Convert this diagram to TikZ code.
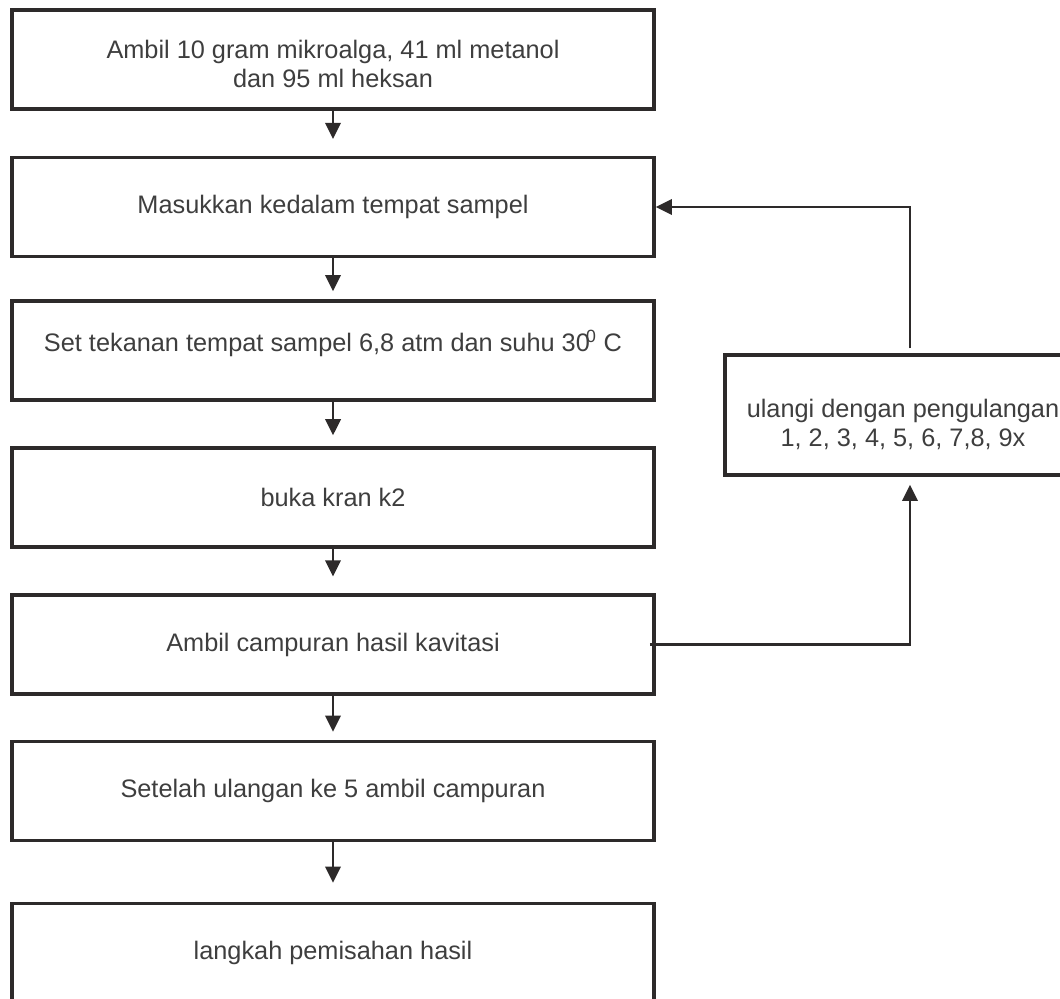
\documentclass[tikz,border=0pt]{standalone}
\usepackage{fontspec}
\setmainfont{Liberation Sans}
\usetikzlibrary{arrows.meta}
\definecolor{linegray}{RGB}{45,42,42}
\definecolor{textgray}{RGB}{62,62,62}
\begin{document}
\begin{tikzpicture}[x=0.025cm,y=-0.025cm,
	stepbox/.style={draw=linegray, line width=2.4pt, rectangle, align=center, text=textgray, inner sep=0pt, minimum width=16.05cm, minimum height=2.475cm, font=\fontsize{18}{20.6}\selectfont},
	flow/.style={draw=linegray, line width=1.6pt, -{Triangle[length=11.5pt,width=11pt]}}]
	\useasboundingbox (0,0) rectangle (1060,999);
	\node[stepbox] (n1) at (333,59.5) {\rule{0pt}{20pt}Ambil 10 gram mikroalga, 41 ml metanol\\dan 95 ml heksan};
	\node[stepbox] (n2) at (333,207) {Masukkan kedalam tempat sampel};
	\node[stepbox] (n3) at (333,350.5) {\raisebox{5pt}[\height][\depth]{Set tekanan tempat sampel 6,8 atm dan suhu 30\kern-0.15em\textsuperscript{0} C}};
	\node[stepbox] (n4) at (333,497.5) {buka kran k2};
	\node[stepbox] (n5) at (333,644.5) {Ambil campuran hasil kavitasi};
	\node[stepbox] (n6) at (333,791) {Setelah ulangan ke 5 ambil campuran};
	\node[stepbox] (n7) at (333,953) {langkah pemisahan hasil};
	\node[stepbox, minimum width=8.9cm, minimum height=3cm] (rep) at (903,415) {\rule{0pt}{26pt}ulangi dengan pengulangan\\1, 2, 3, 4, 5, 6, 7,8, 9x};
	\draw[flow, shorten >=12pt] (n1) -- (n2);
	\draw[flow, shorten >=5.7pt] (n2) -- (n3);
	\draw[flow, shorten >=7.8pt] (n3) -- (n4);
	\draw[flow, shorten >=12pt] (n4) -- (n5);
	\draw[flow, shorten >=5.7pt] (n5) -- (n6);
	\draw[flow, shorten >=13.5pt] (n6) -- (n7);
	\draw[flow, shorten >=5.7pt] ([xshift=-0.15cm]n5.east) -| ([xshift=0.175cm]rep.south);
	\draw[flow, shorten <=3.5pt] ([xshift=0.175cm]rep.north) |- (n2.east);
\end{tikzpicture}
\end{document}
